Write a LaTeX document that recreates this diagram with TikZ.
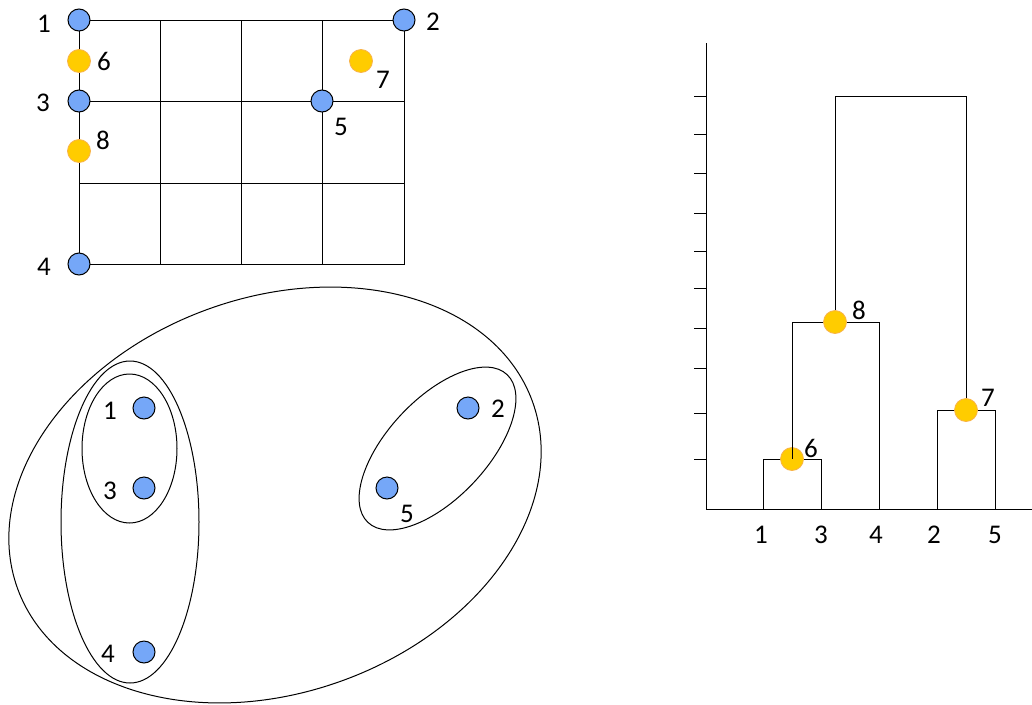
\documentclass[tikz,border=0pt]{standalone}
\usepackage{fontspec}
\setmainfont{Carlito}
\usetikzlibrary{shapes.geometric}
\definecolor{ptblue}{HTML}{75A7F8}
\definecolor{ptyellow}{HTML}{FFCC00}
\definecolor{ptorange}{HTML}{F8B34A}
\begin{document}
\begin{tikzpicture}[x=1pt,y=-1pt,line width=1pt,
  bluept/.style={circle,draw=black,fill=ptblue,minimum size=22pt,inner sep=0pt,line width=1pt},
  yelpt/.style={circle,draw=ptorange,fill=ptyellow,minimum size=23pt,inner sep=0pt,line width=0.8pt},
  lbl/.style={font=\fontsize{27}{31}\selectfont,inner sep=0pt},
  grp/.style={ellipse,draw=black,line width=1pt,inner sep=0pt}]
\useasboundingbox (0,0) rectangle (1032,704);

% ---------- grid ----------
\draw (79,20) rectangle (404,264);
\foreach \x in {160,241,322} \draw (\x,20) -- (\x,264);
\foreach \y in {101,183} \draw (79,\y) -- (404,\y);

\node[bluept] (g1) at (79,20) {};
\node[bluept] (g2) at (404,20) {};
\node[bluept] (g3) at (79,101) {};
\node[bluept] (g5) at (322,101) {};
\node[bluept] (g4) at (79,264) {};
\node[yelpt] (g6) at (79,61) {};
\node[yelpt] (g7) at (361,61) {};
\node[yelpt] (g8) at (79,151) {};

\node[lbl] (gt1) at (44,24) {1};
\node[lbl] (gt2) at (433,22) {2};
\node[lbl] (gt3) at (43,103) {3};
\node[lbl] (gt4) at (44,267) {4};
\node[lbl] (gt5) at (341,127) {5};
\node[lbl] (gt6) at (104,61) {6};
\node[lbl] (gt7) at (383,80) {7};
\node[lbl] (gt8) at (103,140) {8};

% ---------- nested clusters ----------
\node[grp,minimum width=547.8pt,minimum height=395pt,rotate=20] (c12345) at (275,495) {};
\node[grp,minimum width=138pt,minimum height=322pt] (c134) at (130,522) {};
\node[grp,minimum width=95pt,minimum height=149pt] (c13) at (129.5,448.5) {};
\node[grp,minimum width=203pt,minimum height=99.4pt,rotate=46.75] (c25) at (437.5,448.5) {};

\node[bluept] (b1) at (144,408) {};
\node[bluept] (b3) at (144,488) {};
\node[bluept] (b4) at (144,652) {};
\node[bluept] (b2) at (468,408) {};
\node[bluept] (b5) at (387,488) {};
\node[lbl] (bt1) at (110,411) {1};
\node[lbl] (bt3) at (110,491) {3};
\node[lbl] (bt4) at (108,654) {4};
\node[lbl] (bt2) at (498,409) {2};
\node[lbl] (bt5) at (407,514) {5};

% ---------- dendrogram ----------
\coordinate (ax0) at (706,509);
\coordinate (axt) at (706,43);
\coordinate (axr) at (1032,509);
\draw (axt) -- (ax0) -- (axr);
\foreach \y in {96,134,173,213,251,288,328,368,413,459} \draw (694,\y) -- (706,\y);

\coordinate (l1) at (763,509);
\coordinate (l3) at (821,509);
\coordinate (l4) at (879,509);
\coordinate (l2) at (937,509);
\coordinate (l5) at (995,509);

\draw (l1) -- (763,459) -- (821,459) -- (l3);
\draw (792,322) -- (879,322) -- (l4);
\draw (835,322) -- (835,96) -- (966,96) -- (966,410);
\draw (l2) -- (937,410) -- (995,410) -- (l5);

\node[yelpt] (d6) at (792,459) {};
\node[yelpt] (d8) at (835,322) {};
\node[yelpt] (d7) at (966,410) {};
\draw (792,322) -- (d6.center);

\node[lbl] (dt1) at (761,535) {1};
\node[lbl] (dt3) at (821,535) {3};
\node[lbl] (dt4) at (876,535) {4};
\node[lbl] (dt2) at (934,535) {2};
\node[lbl] (dt5) at (995,535) {5};
\node[lbl] (dt6) at (811,448) {6};
\node[lbl] (dt8) at (859,310) {8};
\node[lbl] (dt7) at (988,398) {7};
\end{tikzpicture}
\end{document}
